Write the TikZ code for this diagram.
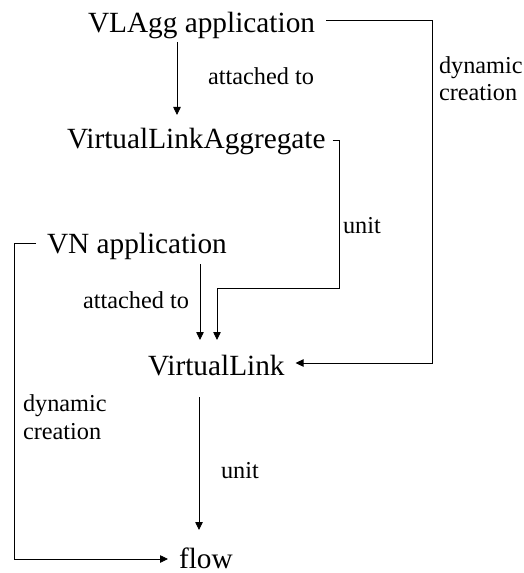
\documentclass[tikz,border=0pt]{standalone}
\usepackage{fontspec}
\setmainfont{Liberation Serif}
\usetikzlibrary{arrows.meta}
\begin{document}
\begin{tikzpicture}[x=1bp,y=-1bp,
  big/.style={inner sep=0pt,outer sep=0pt,anchor=base west,font=\fontsize{29.3bp}{32bp}\selectfont},
  small/.style={inner sep=0pt,outer sep=0pt,anchor=base west,font=\fontsize{24.3bp}{27bp}\selectfont},
  conn/.style={line width=0.8bp,-{Triangle[length=8bp,width=7.5bp]}}]
\useasboundingbox (0,0) rectangle (524,573);
% nodes
\node[big] (vlagg) at (88,33) {VLAgg application};
\node[big] (vla) at (67,149) {VirtualLinkAggregate};
\node[big] (vn) at (47,253) {VN application};
\node[big] (vl) at (148,375) {VirtualLink};
\node[big] (flow) at (179,568) {flow};
% labels
\node[small] (l1) at (208,85) {attached to};
\node[small] (l2a) at (439,74) {dynamic};
\node[small] (l2b) at (439,101) {creation};
\node[small] (l3) at (343,233) {unit};
\node[small] (l4) at (83,308) {attached to};
\node[small] (l5a) at (23,411) {dynamic};
\node[small] (l5b) at (23,439) {creation};
\node[small] (l6) at (221,478) {unit};
% bends
\coordinate (b1) at (432,20);
\coordinate (b2) at (432,363);
\coordinate (u1) at (339,140);
\coordinate (u2) at (339,288);
\coordinate (u3) at (217,288);
\coordinate (d1) at (14,243);
\coordinate (d2) at (14,559);
% connectors
\draw[conn] ([shift={(89,9)}]vlagg.base west) -- ([shift={(110,-34)}]vla.base west);
\draw[conn] ([shift={(11,-13)}]vlagg.base east) -- (b1) -- (b2) -- ([shift={(11,-12)}]vl.base east);
\draw[conn] ([shift={(7,-9)}]vla.base east) -- (u1) -- (u2) -- (u3) -- ([shift={(69,-35)}]vl.base west);
\draw[conn] ([shift={(153,11)}]vn.base west) -- ([shift={(52,-35)}]vl.base west);
\draw[conn] ([shift={(-11,-10)}]vn.base west) -- (d1) -- (d2) -- ([shift={(-11,-9)}]flow.base west);
\draw[conn] ([shift={(51,22)}]vl.base west) -- ([shift={(20,-38)}]flow.base west);
\end{tikzpicture}
\end{document}
